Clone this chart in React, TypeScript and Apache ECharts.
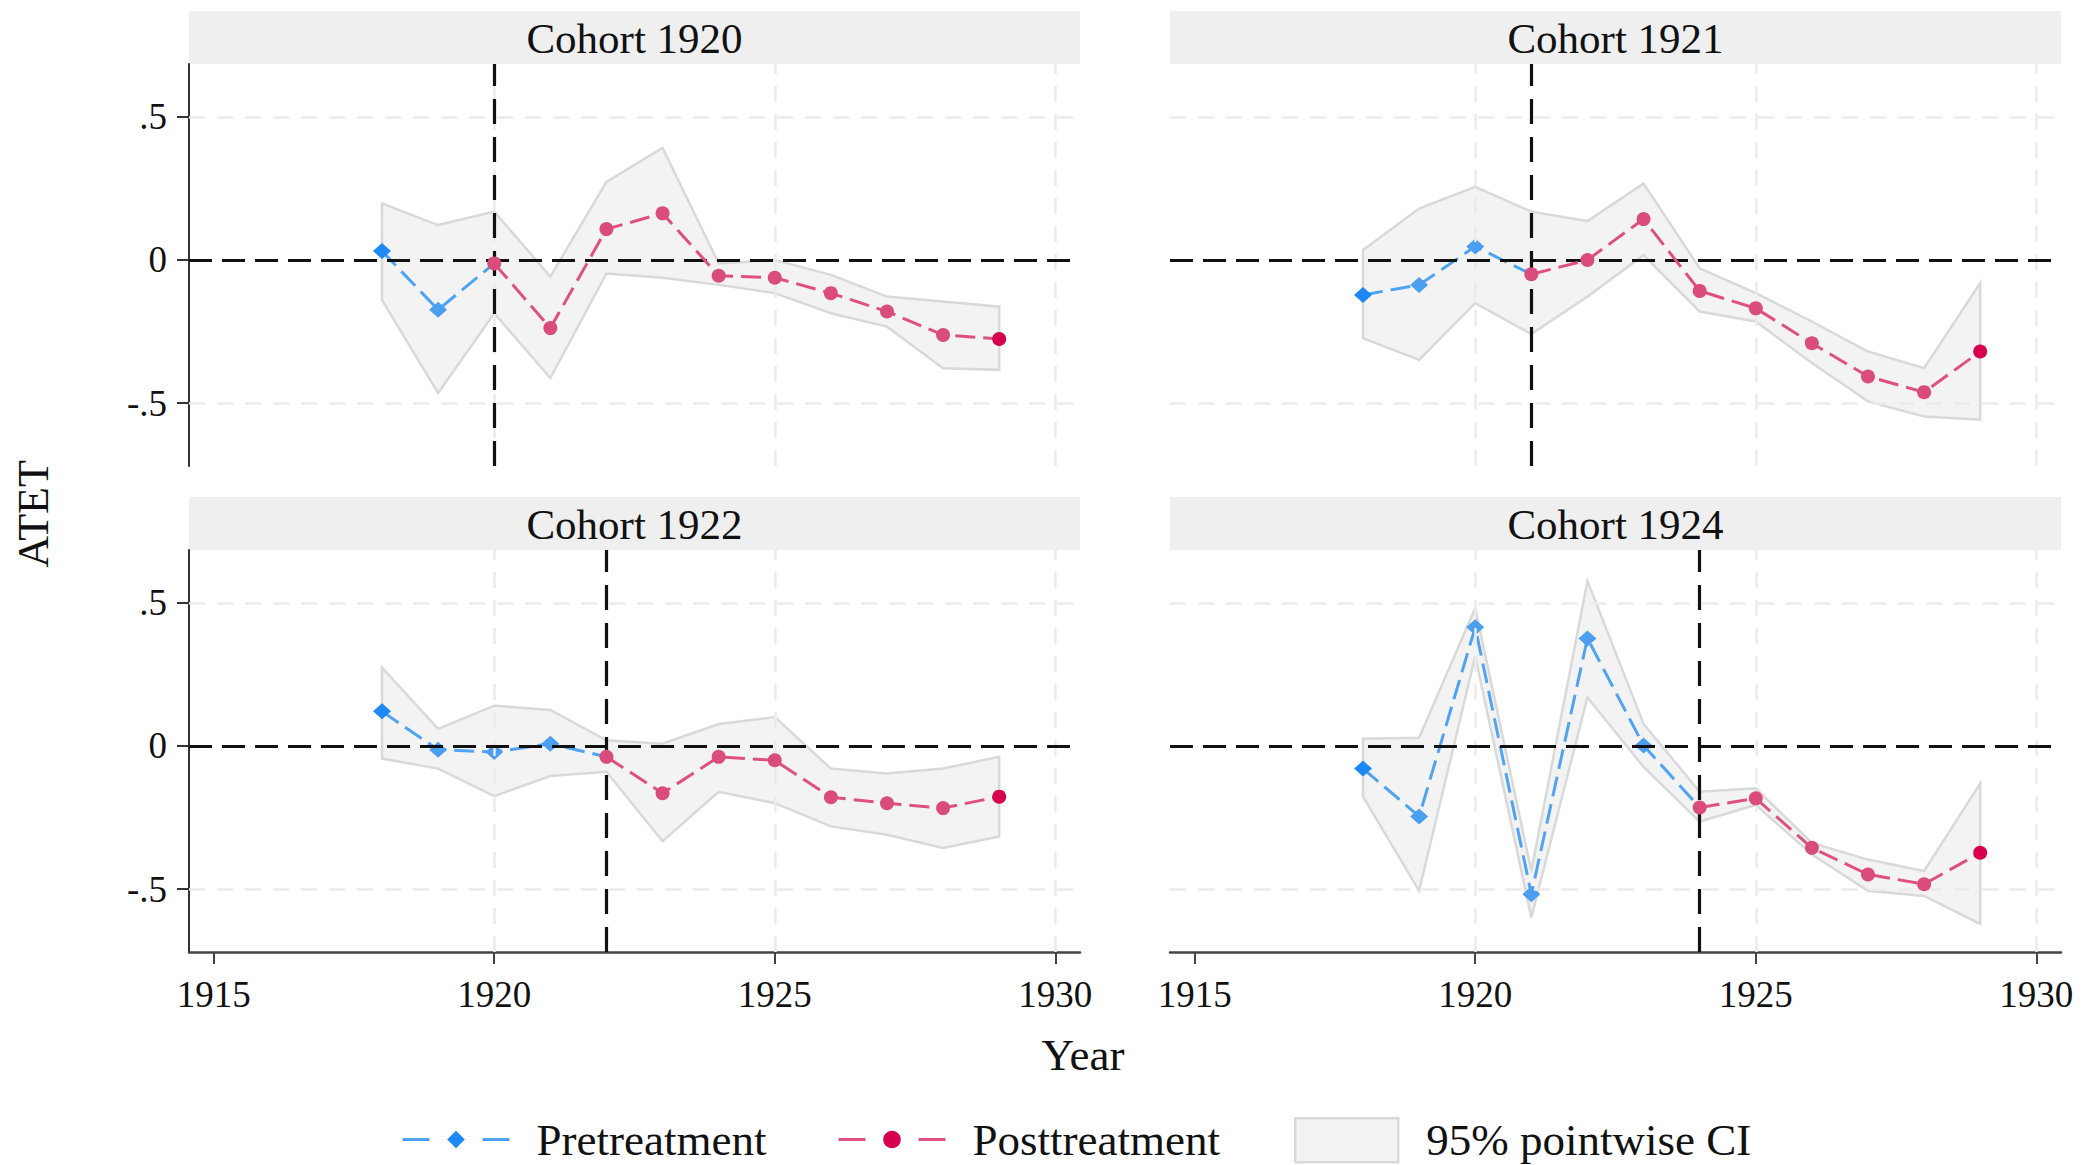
import React, { useEffect, useRef } from 'react';
import * as echarts from 'echarts';

// ---------- data ----------
const years = [1918, 1919, 1920, 1921, 1922, 1923, 1924, 1925, 1926, 1927, 1928, 1929];
const cohorts = [1920, 1921, 1922, 1924];
const panelTitles = ['Cohort 1920', 'Cohort 1921', 'Cohort 1922', 'Cohort 1924'];

const atet1920 = [0.031, -0.174, -0.012, -0.238, 0.108, 0.163, -0.055, -0.062, -0.116, -0.180, -0.262, -0.276];
const lower1920 = [-0.140, -0.465, -0.186, -0.413, -0.047, -0.062, -0.087, -0.116, -0.186, -0.233, -0.378, -0.384];
const upper1920 = [0.198, 0.122, 0.169, -0.058, 0.273, 0.392, -0.012, 0.0, -0.052, -0.128, -0.145, -0.163];

const atet1921 = [-0.122, -0.087, 0.047, -0.050, 0.0, 0.143, -0.108, -0.169, -0.291, -0.407, -0.462, -0.320];
const lower1921 = [-0.273, -0.349, -0.151, -0.259, -0.128, 0.017, -0.180, -0.215, -0.360, -0.494, -0.547, -0.558];
const upper1921 = [0.035, 0.180, 0.256, 0.169, 0.136, 0.267, -0.029, -0.116, -0.215, -0.320, -0.378, -0.081];

const atet1922 = [0.121, -0.013, -0.021, 0.008, -0.038, -0.165, -0.038, -0.050, -0.179, -0.200, -0.217, -0.177];
const lower1922 = [-0.044, -0.079, -0.175, -0.105, -0.090, -0.333, -0.160, -0.200, -0.281, -0.310, -0.356, -0.316];
const upper1922 = [0.274, 0.060, 0.141, 0.126, 0.020, 0.008, 0.077, 0.101, -0.079, -0.096, -0.079, -0.038];

const atet1924 = [-0.079, -0.246, 0.415, -0.518, 0.376, 0.002, -0.215, -0.183, -0.356, -0.449, -0.483, -0.373];
const lower1924 = [-0.177, -0.506, 0.314, -0.599, 0.170, -0.073, -0.264, -0.206, -0.379, -0.506, -0.524, -0.622];
const upper1924 = [0.025, 0.029, 0.482, -0.437, 0.577, 0.077, -0.160, -0.148, -0.339, -0.397, -0.437, -0.131];

const atetAll = [atet1920, atet1921, atet1922, atet1924];
const lowerAll = [lower1920, lower1921, lower1922, lower1924];
const upperAll = [upper1920, upper1921, upper1922, upper1924];

const yTicks = [-0.5, 0, 0.5];
const xTicks = [1915, 1920, 1925, 1930];
const xGridValues = [1920, 1925, 1930];
const yGridValues = [-0.5, 0.5];

// ---------- style ----------
const FONT = 'Liberation Serif';
const X_MIN = 1914.56;
const X_MAX = 1930.44;
const Y_MIN = -0.72;
const Y_MAX = 0.685;
const PRE_LINE = '#4fa3f5';
const PRE_MARK = '#4b9ff0';
const PRE_FULL = '#1e88f5';
const POST_LINE = '#e0507f';
const POST_MARK = '#d94c7b';
const POST_FULL = '#d6004f';

const panels = [
  { left: 189, top: 64, stripTop: 11, showX: false, showY: true },
  { left: 1170, top: 64, stripTop: 11, showX: false, showY: false },
  { left: 189, top: 550, stripTop: 497, showX: true, showY: true },
  { left: 1170, top: 550, stripTop: 497, showX: true, showY: false },
];
const PW = 891;
const PH = 402;
const STRIP_H = 53;

function fmtY(v: number) {
  return String(v).replace('0.', '.');
}

function buildOption() {
  const grid: any[] = [];
  const xAxis: any[] = [];
  const yAxis: any[] = [];
  const series: any[] = [];
  const graphic: any[] = [];

  panels.forEach((p, i) => {
    grid.push({ left: p.left, top: p.top, width: PW, height: PH, containLabel: false });
    xAxis.push({
      type: 'value',
      gridIndex: i,
      min: X_MIN,
      max: X_MAX,
      splitLine: { show: false },
      axisLine: { show: p.showX, onZero: false, lineStyle: { color: '#444', width: 2.5 } },
      axisTick: { show: p.showX, length: 12, customValues: xTicks, lineStyle: { color: '#444', width: 2 } },
      axisLabel: {
        show: p.showX,
        customValues: xTicks,
        fontSize: 37,
        fontFamily: FONT,
        color: '#111',
        margin: 24,
        formatter: (v: number) => String(v),
      },
    });
    yAxis.push({
      type: 'value',
      gridIndex: i,
      min: Y_MIN,
      max: Y_MAX,
      splitLine: { show: false },
      axisLine: { show: p.showY, onZero: false, lineStyle: { color: '#333', width: 2 } },
      axisTick: { show: p.showY, length: 12, customValues: yTicks, lineStyle: { color: '#333', width: 2 } },
      axisLabel: {
        show: p.showY,
        customValues: yTicks,
        fontSize: 37,
        fontFamily: FONT,
        color: '#111',
        margin: 22,
        formatter: (v: number) => fmtY(v),
      },
    });

    const cohort = cohorts[i];
    const atet = atetAll[i];
    const lo = lowerAll[i];
    const up = upperAll[i];

    // grid lines
    const gridLines: any[] = [];
    yGridValues.forEach((y) => gridLines.push([{ coord: [X_MIN, y] }, { coord: [X_MAX, y] }]));
    xGridValues.forEach((x) => gridLines.push([{ coord: [x, Y_MIN] }, { coord: [x, Y_MAX] }]));
    series.push({
      type: 'line',
      xAxisIndex: i,
      yAxisIndex: i,
      data: [[X_MIN, 0]],
      showSymbol: false,
      lineStyle: { opacity: 0 },
      silent: true,
      z: 1,
      markLine: {
        silent: true,
        symbol: ['none', 'none'],
        label: { show: false },
        animation: false,
        lineStyle: { color: '#ebebeb', width: 2.5, type: [16, 12] },
        data: gridLines,
      },
    });

    // CI band
    series.push({
      type: 'custom',
      name: '95% pointwise CI',
      xAxisIndex: i,
      yAxisIndex: i,
      z: 2,
      silent: true,
      itemStyle: { color: '#f3f3f3', borderColor: '#d9d9d9' },
      data: years.map((y, k) => [y, lo[k], up[k]]),
      encode: { x: 0, y: [1, 2] },
      renderItem: (params: any, api: any) => {
        if (params.dataIndex !== 0) return null;
        const pts: number[][] = [];
        for (let k = 0; k < years.length; k++) pts.push(api.coord([years[k], up[k]]));
        for (let k = years.length - 1; k >= 0; k--) pts.push(api.coord([years[k], lo[k]]));
        return {
          type: 'polygon',
          shape: { points: pts },
          style: { fill: '#f3f3f3', stroke: '#d9d9d9', lineWidth: 2.5 },
        };
      },
    });

    // reference lines (zero and treatment year)
    series.push({
      type: 'line',
      xAxisIndex: i,
      yAxisIndex: i,
      data: [[X_MIN, 0]],
      showSymbol: false,
      lineStyle: { opacity: 0 },
      silent: true,
      z: 3,
      markLine: {
        silent: true,
        symbol: ['none', 'none'],
        label: { show: false },
        animation: false,
        data: [
          [
            { coord: [X_MIN, 0], lineStyle: { color: '#111', width: 3, type: [23, 10] } },
            { coord: [X_MAX, 0] },
          ],
          [
            { coord: [cohort, Y_MIN], lineStyle: { color: '#111', width: 3.2, type: [25, 13] } },
            { coord: [cohort, Y_MAX] },
          ],
        ],
      },
    });

    // pretreatment / posttreatment
    const preData: any[] = [];
    const postData: any[] = [];
    years.forEach((y, k) => {
      if (y < cohort) {
        preData.push({
          value: [y, atet[k]],
          itemStyle: k === 0 ? { color: PRE_FULL } : undefined,
        });
      }
      if (y === cohort) {
        preData.push({ value: [y, atet[k]], symbol: 'none' });
      }
      if (y >= cohort) {
        postData.push({
          value: [y, atet[k]],
          itemStyle: k === years.length - 1 ? { color: POST_FULL } : undefined,
        });
      }
    });

    series.push({
      type: 'line',
      name: 'Pretreatment',
      xAxisIndex: i,
      yAxisIndex: i,
      z: 4,
      data: preData,
      symbol: 'diamond',
      symbolSize: [18, 16],
      showAllSymbol: true,
      itemStyle: { color: PRE_MARK },
      lineStyle: { color: PRE_LINE, width: 3, type: [20, 8] },
    });
    series.push({
      type: 'line',
      name: 'Posttreatment',
      xAxisIndex: i,
      yAxisIndex: i,
      z: 5,
      data: postData,
      symbol: 'circle',
      symbolSize: 14,
      showAllSymbol: true,
      itemStyle: { color: POST_MARK },
      lineStyle: { color: POST_LINE, width: 3, type: [20, 8] },
    });

    // strip
    graphic.push({
      type: 'rect',
      shape: { x: p.left, y: p.stripTop, width: PW, height: STRIP_H },
      style: { fill: '#efefef' },
      silent: true,
    });
    graphic.push({
      type: 'text',
      x: p.left + PW / 2,
      y: p.stripTop + STRIP_H / 2 + 1,
      silent: true,
      style: {
        text: panelTitles[i],
        fontSize: 43,
        fontFamily: FONT,
        fill: '#111',
        align: 'center',
        verticalAlign: 'middle',
      },
    });
  });

  graphic.push({
    type: 'text',
    x: 33,
    y: 514,
    rotation: Math.PI / 2,
    silent: true,
    style: {
      text: 'ATET',
      fontSize: 44,
      fontFamily: FONT,
      fill: '#111',
      align: 'center',
      verticalAlign: 'middle',
    },
  });
  graphic.push({
    type: 'text',
    x: 1083,
    y: 1055,
    silent: true,
    style: {
      text: 'Year',
      fontSize: 45,
      fontFamily: FONT,
      fill: '#111',
      align: 'center',
      verticalAlign: 'middle',
    },
  });

  const legendText = { fontSize: 45, fontFamily: FONT, color: '#111', lineHeight: 44 };

  const legend = [
    {
      left: 401,
      top: 1117,
      padding: 0,
      itemWidth: 107,
      itemHeight: 22,
      selectedMode: false,
      textStyle: { ...legendText, padding: [0, 0, 0, 22] },
      data: [
        {
          name: 'Pretreatment',
          itemStyle: { color: PRE_FULL },
          lineStyle: { color: PRE_LINE, width: 3, type: [27, 53] },
        },
      ],
    },
    {
      left: 837,
      top: 1117,
      padding: 0,
      itemWidth: 107,
      itemHeight: 22,
      selectedMode: false,
      textStyle: { ...legendText, padding: [0, 0, 0, 22] },
      data: [
        {
          name: 'Posttreatment',
          itemStyle: { color: POST_FULL },
          lineStyle: { color: POST_LINE, width: 3, type: [27, 53] },
        },
      ],
    },
    {
      left: 1294,
      top: 1117,
      padding: 0,
      itemWidth: 103,
      itemHeight: 44,
      selectedMode: false,
      textStyle: { ...legendText, padding: [0, 0, 0, 23] },
      data: [
        {
          name: '95% pointwise CI',
          icon: 'rect',
          itemStyle: { color: '#f3f3f3', borderColor: '#d9d9d9', borderWidth: 2.5 },
        },
      ],
    },
  ];

  return {
    animation: false,
    backgroundColor: '#ffffff',
    textStyle: { fontFamily: FONT },
    grid,
    xAxis,
    yAxis,
    series,
    graphic,
    legend,
  };
}

export default function App() {
  const ref = useRef<HTMLDivElement | null>(null);
  useEffect(() => {
    document.body.style.margin = '0';
    if (!ref.current) return;
    const chart = echarts.init(ref.current, null, { renderer: 'svg' });
    chart.setOption(buildOption() as any);
    return () => {
      chart.dispose();
    };
  }, []);
  return <div ref={ref} style={{ width: 2094, height: 1165 }} />;
}
